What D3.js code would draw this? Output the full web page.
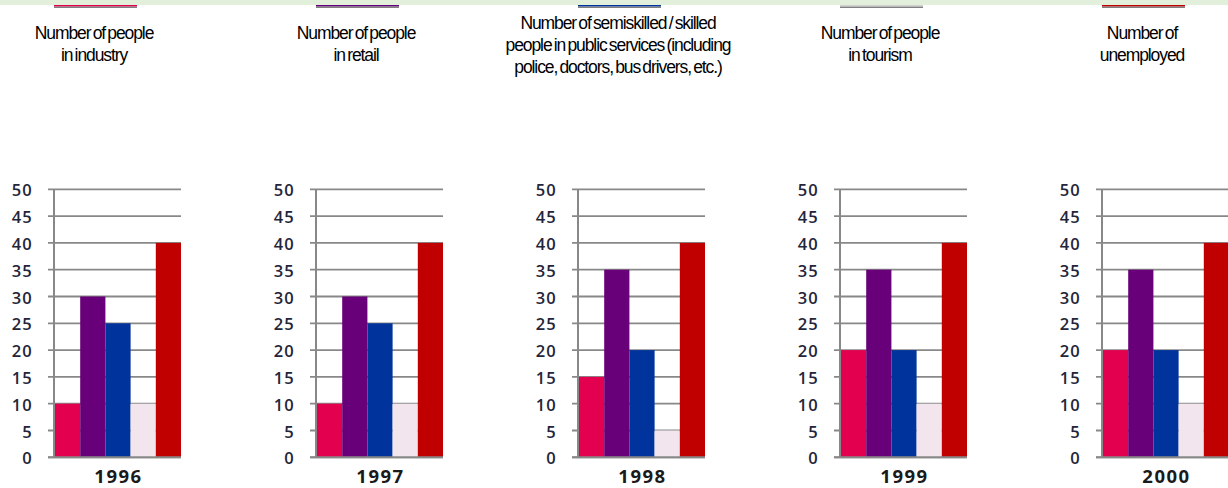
<!DOCTYPE html>
<html>
<head>
<meta charset="utf-8">
<script src="https://cdn.jsdelivr.net/npm/d3@7"></script>
<style>
  html, body { margin: 0; padding: 0; background: #fff; }
  svg { display: block; }
  .tick text { font-family: "Open Sans", sans-serif; font-weight: 600; }
</style>
</head>
<body>
<svg id="chart" width="1228" height="488"></svg>
<script>
// one small panel per year, five series each
const YEARS = ["1996", "1997", "1998", "1999", "2000"];
const SERIES = ["industry", "retail", "public", "tourism", "unemployed"];
const INDUSTRY = [10, 10, 15, 20, 20];
const RETAIL = [30, 30, 35, 35, 35];
const PUBLIC = [25, 25, 20, 20, 20];
const TOURISM = [10, 10, 5, 10, 10];
const UNEMPLOYED = [40, 40, 40, 40, 40];
const Y_TICKS = [0, 5, 10, 15, 20, 25, 30, 35, 40, 45, 50];
const LEGEND_LINES = [
  ["Number of people", "in industry"],
  ["Number of people", "in retail"],
  ["Number of semiskilled / skilled", "people in public services (including", "police, doctors, bus drivers, etc.)"],
  ["Number of people", "in tourism"],
  ["Number of", "unemployed"],
];
const COLORS = ["#e2004f", "#680079", "#00349c", "#f3e5ed", "#c00000"];
const SWATCH = ["#e2004f", "#680079", "#00349c", "#d0d0d0", "#c00000"];

const values = [INDUSTRY, RETAIL, PUBLIC, TOURISM, UNEMPLOYED];

const svg = d3.select("#chart");
const PANEL_X0 = 54, PANEL_STEP = 262, PLOT_W = 127;
const TOP = 189.3, BOTTOM = 457.3;
const GRID = "#888888";

// top band
svg.append("rect").attr("x", 0).attr("y", 0).attr("width", 1228).attr("height", 5)
  .attr("fill", "#e2efda");

const y = d3.scaleLinear().domain([0, 50]).range([BOTTOM, TOP]);
const x = d3.scaleBand().domain(SERIES).range([1, PLOT_W]).padding(0);

YEARS.forEach((yr, i) => {
  const px = PANEL_X0 + i * PANEL_STEP;
  const g = svg.append("g").attr("transform", `translate(${px},0)`);

  // legend swatch + text for the series of this column
  g.append("rect").attr("x", 0).attr("y", 5).attr("width", 83).attr("height", 1.6)
    .attr("fill", SWATCH[i]);
  g.append("rect").attr("x", 0).attr("y", 6.6).attr("width", 83).attr("height", 1.4)
    .attr("fill", "#808080");
  const lines = LEGEND_LINES[i];
  const lh = 21.8, mid = lines.length > 2 ? 51 : 50;
  g.append("g").selectAll("text").data(lines).join("text")
    .attr("x", 40)
    .attr("y", (d, k) => mid + (k - (lines.length - 1) / 2) * lh)
    .attr("text-anchor", "middle")
    .style("font-family", "'Liberation Sans', Arial, sans-serif")
    .style("font-size", "17.5px")
    .style("letter-spacing", "-1.1px")
    .style("word-spacing", "-1.5px")
    .style("fill", "#000")
    .text((d) => d);

  // gridlines
  g.append("g").selectAll("line").data(Y_TICKS).join("line")
    .attr("x1", -6).attr("x2", PLOT_W)
    .attr("y1", (d) => y(d)).attr("y2", (d) => y(d))
    .attr("stroke", GRID).attr("stroke-width", 1.8);

  // y axis labels
  g.append("g")
    .call(d3.axisLeft(y).tickValues(Y_TICKS).tickSize(0).tickPadding(21))
    .call((a) => a.select(".domain").remove())
    .call((a) => a.selectAll("text")
      .attr("dy", "0.4em")
      .style("font-size", "16.5px")
      .style("letter-spacing", "1.2px")
      .style("fill", "#24243a"));

  // bars
  const rows = SERIES.map((s, k) => ({ s, v: values[k][i], c: COLORS[k] }));
  g.append("g").selectAll("rect").data(rows).join("rect")
    .attr("x", (d) => x(d.s)).attr("width", x.bandwidth())
    .attr("y", (d) => y(d.v)).attr("height", (d) => y(0) - y(d.v))
    .attr("fill", (d) => d.c);

  // axis lines
  g.append("line").attr("x1", 0).attr("x2", 0).attr("y1", TOP).attr("y2", BOTTOM)
    .attr("stroke", GRID).attr("stroke-width", 2);
  g.append("line").attr("x1", -6).attr("x2", PLOT_W).attr("y1", BOTTOM).attr("y2", BOTTOM)
    .attr("stroke", GRID).attr("stroke-width", 2);

  // year label
  g.append("text").attr("x", PLOT_W / 2 + 1).attr("y", 483)
    .attr("text-anchor", "middle")
    .style("font-family", "'Open Sans', sans-serif")
    .style("font-weight", 700).style("font-size", "18.5px")
    .style("letter-spacing", "1.5px")
    .style("fill", "#1a1a1a")
    .text(yr);
});
</script>
</body>
</html>
